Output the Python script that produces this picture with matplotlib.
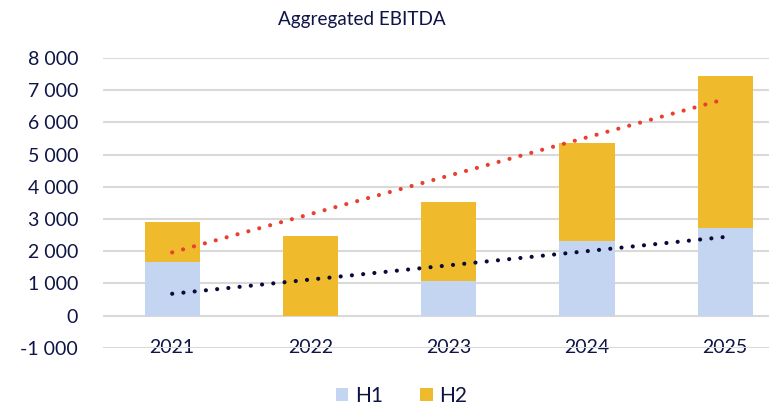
import numpy as np
import matplotlib.pyplot as plt

plt.rcParams['font.family'] = ['Lato', 'DejaVu Sans']

years = ['2021', '2022', '2023', '2024', '2025']
h1 = [1680, 0, 1080, 2330, 2720]
h2 = [1240, 2480, 2450, 3030, 4710]

blue = '#c3d5f1'
gold = '#efbb2c'
navy = '#0f1446'

fig = plt.figure(figsize=(7.69, 4.05), dpi=100)
ax = fig.add_axes([0.134, 0.141, 0.899, 0.716])

x = np.arange(len(years))
total = np.array(h1) + np.array(h2)

ax.bar(x, h1, width=0.4, color=blue, label='H1', zorder=2)
ax.bar(x, h2, width=0.4, bottom=h1, color=gold, label='H2', zorder=2)

# linear trendlines, like the excel ones
for ys, col in [(total, '#e8402f'), (np.array(h1), '#0a0a3a')]:
    k, b = np.polyfit(x, ys, 1)
    ax.plot(x, k * x + b, color=col, lw=3, linestyle=(0, (0.01, 2.7)),
            dash_capstyle='round', zorder=3)

ax.set_xlim(-0.5, 4.5)
ax.set_ylim(-1000, 8000)
ax.set_yticks(range(-1000, 8001, 1000))
ax.set_yticklabels([f'{v:,}'.replace(',', ' ') for v in range(-1000, 8001, 1000)])
ax.set_xticks(x)
ax.set_xticklabels(years)
ax.grid(axis='y', color='#d9d9d9', lw=1.5, zorder=0)
ax.set_axisbelow(True)
for s in ax.spines.values():
    s.set_visible(False)
ax.tick_params(length=0, colors=navy, labelsize=14)
ax.tick_params(axis='y', pad=18)
# year labels sit on the -1000 row
ax.tick_params(axis='x', pad=-0.5)
for lbl in ax.get_xticklabels():
    lbl.set_va('center')

fig.text(0.47, 0.952, 'Aggregated EBITDA', ha='center', va='center', fontsize=13.6, color=navy)

fig.legend(loc='center', bbox_to_anchor=(0.522, 0.022), ncol=2, frameon=False,
           fontsize=15, labelcolor=navy, handlelength=0.6, handleheight=0.6,
           handletextpad=0.3, columnspacing=1.8)

fig.savefig('out.png', dpi=100)
